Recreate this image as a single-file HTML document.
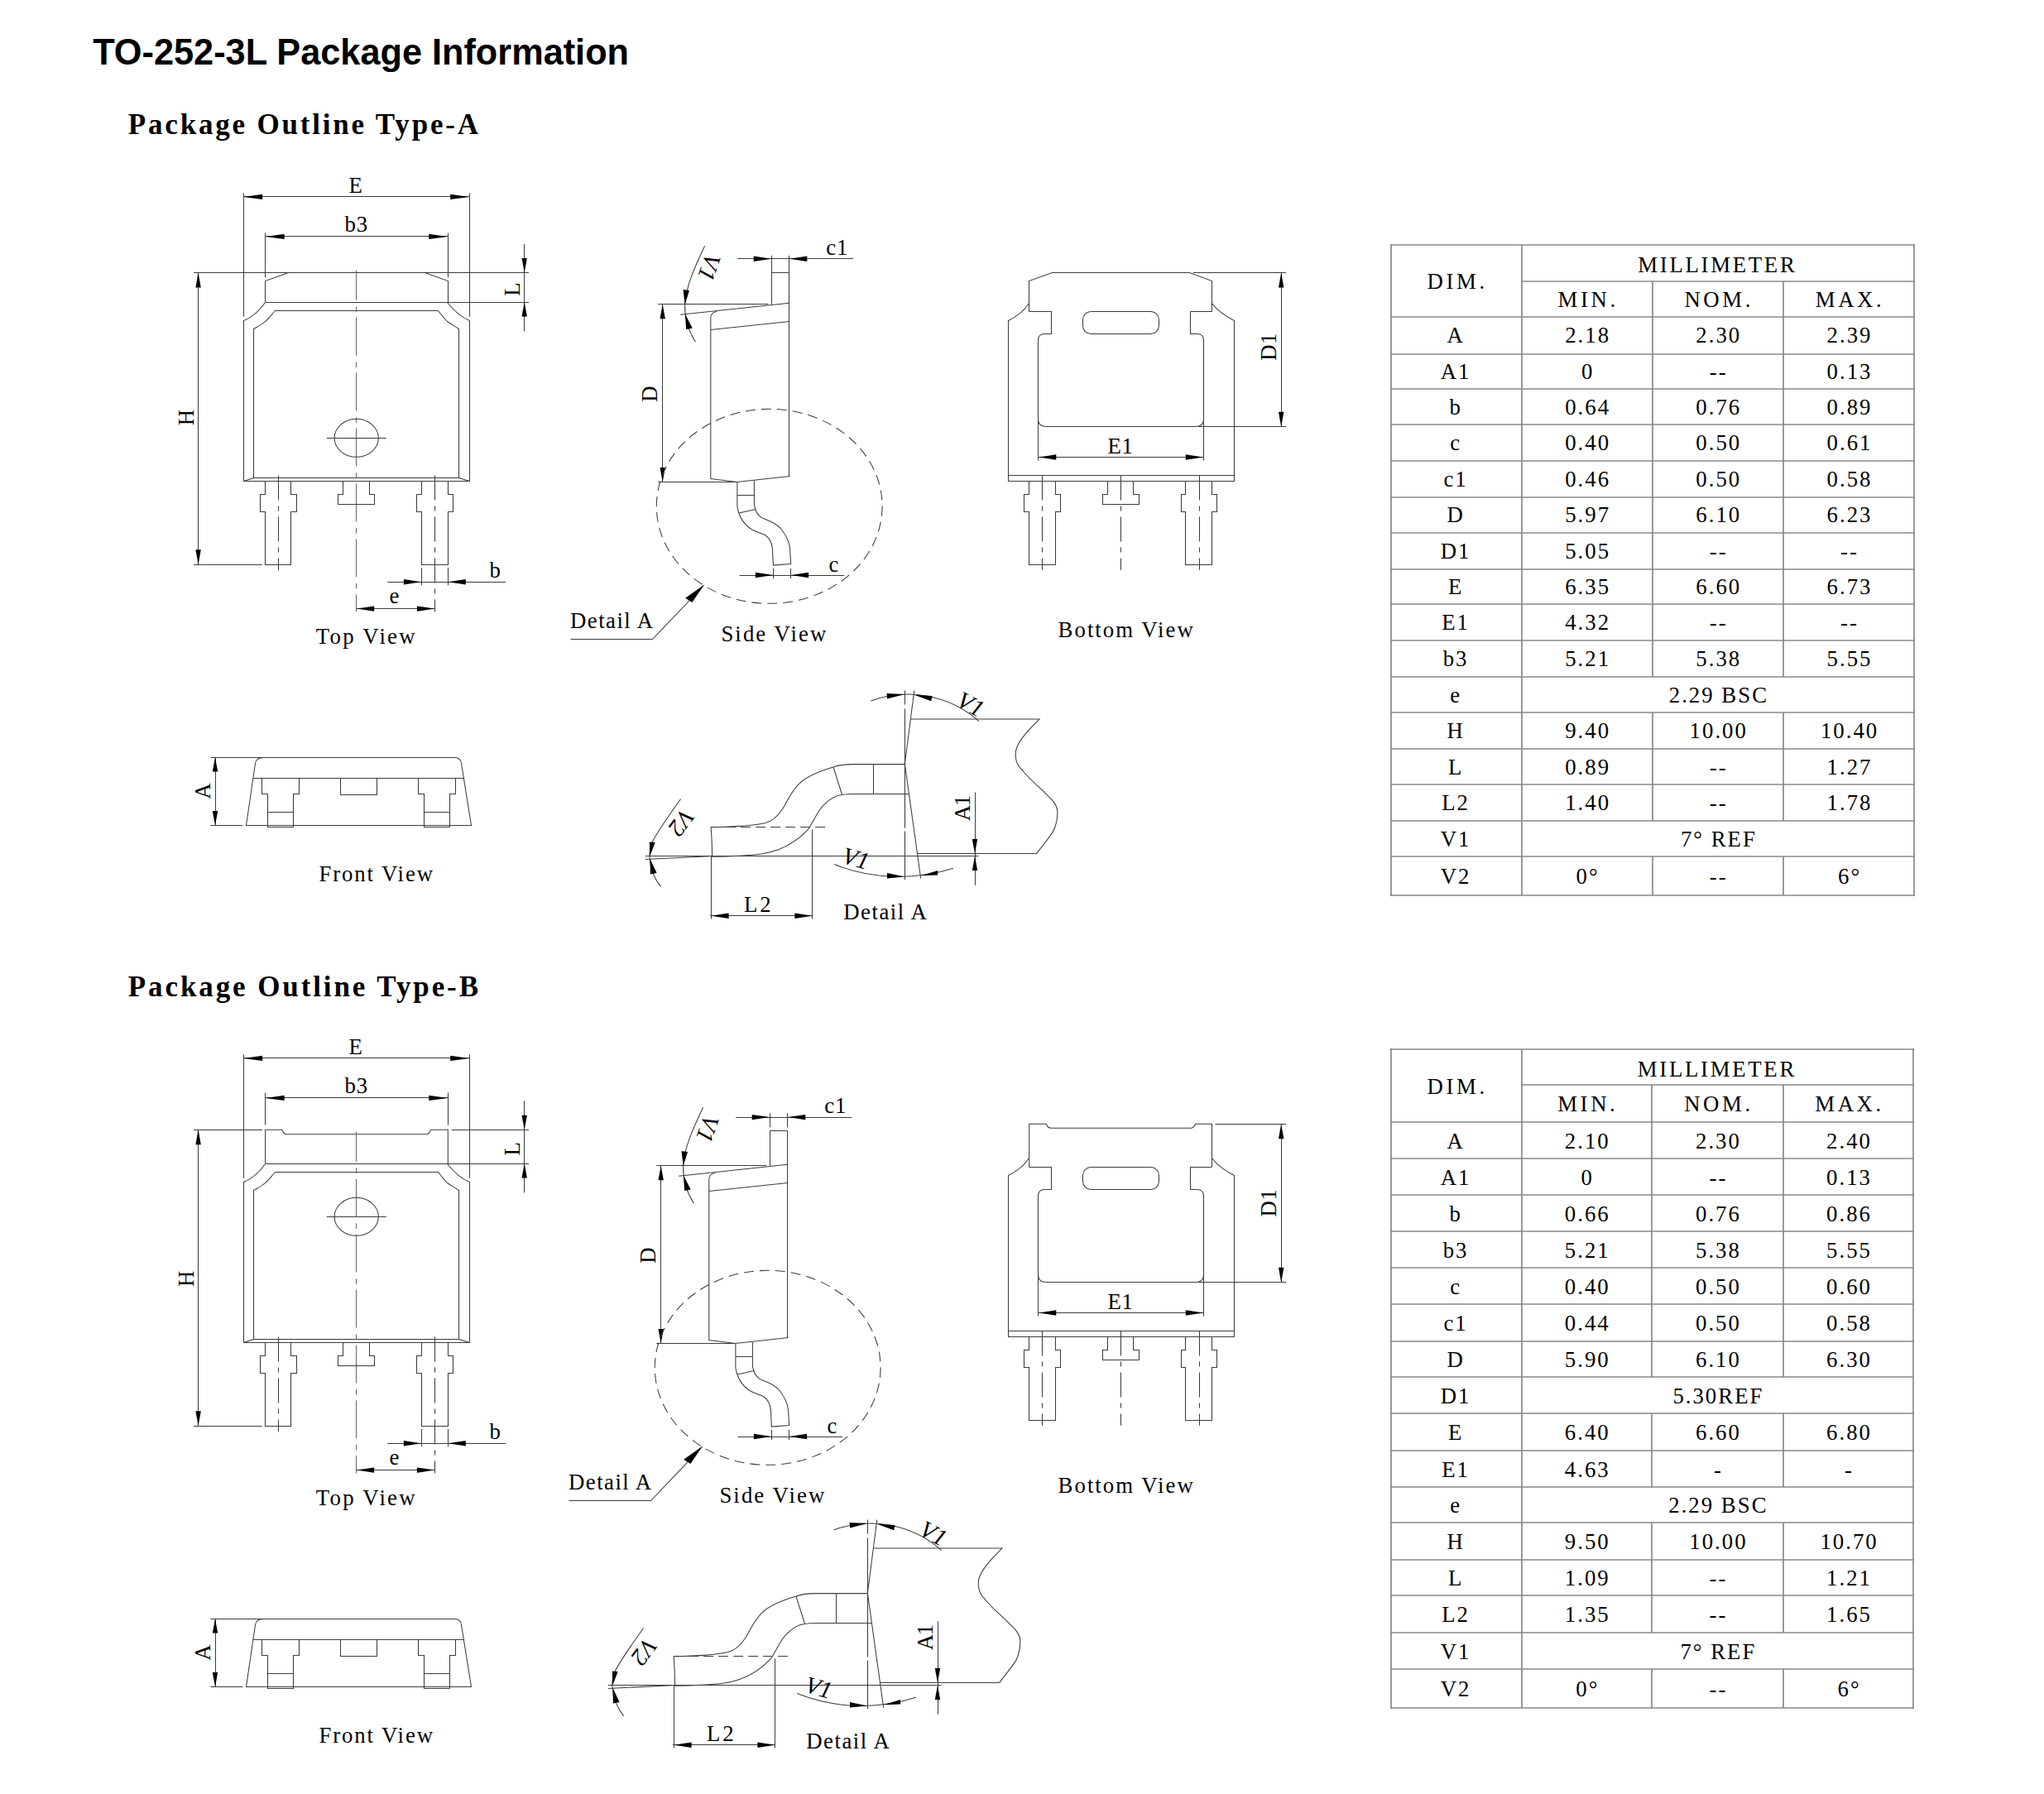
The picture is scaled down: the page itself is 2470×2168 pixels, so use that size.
<!DOCTYPE html>
<html><head><meta charset="utf-8"><title>TO-252-3L Package Information</title>
<style>
html,body{margin:0;padding:0;background:#fff;}
body{width:2470px;height:2168px;overflow:hidden;position:relative;}
svg{position:absolute;left:0;top:0;}
.l{fill:none;stroke:#3c3c3c;stroke-width:1.05;}
.c{fill:none;stroke:#6a6a6a;stroke-width:1.05;stroke-dasharray:46 7.7 6.6 6.6;}
.c2{fill:none;stroke:#3c3c3c;stroke-width:1.05;stroke-dasharray:30 7 6 7;}
.c3{fill:none;stroke:#3c3c3c;stroke-width:1.05;stroke-dasharray:17 5 144 4 400;}
.d{fill:none;stroke:#3c3c3c;stroke-width:1.05;stroke-dasharray:12 7;}
.d2{fill:none;stroke:#3c3c3c;stroke-width:1.05;stroke-dasharray:12 6;}
.a{fill:#000;stroke:none;}
.tb{stroke:#888;stroke-width:1.7;fill:none;}
.t{font-family:"Liberation Serif",serif;font-size:26.8px;fill:#000;}
.th{letter-spacing:3.6px;}
.th2{letter-spacing:2.7px;}
.tt{letter-spacing:2px;}
.it{font-style:italic;font-size:29px;}
.h1{font-family:"Liberation Sans",sans-serif;font-weight:bold;font-size:43.3px;fill:#000;}
.h2{font-family:"Liberation Serif",serif;font-weight:bold;font-size:35px;fill:#000;}
</style></head><body>
<svg width="2470" height="2168" viewBox="0 0 2470 2168">
<text class="h2" x="154.8" y="1203.8" textLength="423.2" lengthAdjust="spacing">Package Outline Type-B</text>
<text class="h2" x="154.8" y="162" textLength="423.2" lengthAdjust="spacing">Package Outline Type-A</text>
<text class="h1" x="0" y="0" textLength="647.82" lengthAdjust="spacingAndGlyphs" transform="translate(112.2 78) scale(1 1.045)">TO-252-3L Package Information</text>
<line class="l" x1="294.2" y1="237.5" x2="567.2" y2="237.5"/>
<path class="a" d="M294.2,237.9L317.2,234.7L317.2,241.1Z"/>
<path class="a" d="M567.2,237.9L544.2,241.1L544.2,234.7Z"/>
<line class="l" x1="294.5" y1="233.3" x2="294.5" y2="382.7"/>
<line class="l" x1="567.5" y1="233.3" x2="567.5" y2="382.7"/>
<text class="t" x="421.4" y="233">E</text>
<line class="l" x1="320.6" y1="285.5" x2="541.3" y2="285.5"/>
<path class="a" d="M320.6,285.9L343.6,282.7L343.6,289.1Z"/>
<path class="a" d="M541.3,285.9L518.3,289.1L518.3,282.7Z"/>
<text class="t" x="416.4" y="280.4" textLength="27.85" lengthAdjust="spacing">b3</text>
<line class="l" x1="320.5" y1="281.5" x2="320.5" y2="335.4"/>
<line class="l" x1="541.5" y1="281.5" x2="541.5" y2="335.4"/>
<line class="l" x1="234" y1="329.5" x2="639" y2="329.5"/>
<polyline class="l" points="320.5,365.5 320.5,339.5 348.5,329.5 513.5,329.5 541.5,339.5 541.5,365.5"/>
<line class="l" x1="633.5" y1="294.7" x2="633.5" y2="400.4"/>
<path class="a" d="M633.7,329.5L630.5,312L636.9,312Z"/>
<path class="a" d="M633.7,365.1L636.9,382.6L630.5,382.6Z"/>
<text class="t" x="0" y="0" transform="translate(628.2 357.8) rotate(-90)">L</text>
<line class="l" x1="320.6" y1="365.5" x2="639" y2="365.5"/>
<path class="l" d="M320.5,365.5C313.5,375.5 304.5,383.5 294.5,387.5V581.5H567.5V387.5C557.5,383.5 548.5,375.5 540.5,365.5"/>
<path class="l" d="M294.5,581.5L306.5,577.5V397.5C313.5,393.5 317.5,391.5 320.5,388.5C325.5,384.5 328.5,379.5 332.5,375.5H529.5C532.5,379.5 536.5,384.5 540.5,388.5C544.5,391.5 548.5,393.5 554.5,397.5V577.5L567.5,581.5"/>
<line class="l" x1="306.6" y1="577.5" x2="554.8" y2="577.5"/>
<line class="c" style="stroke-dashoffset:9.8" x1="430.5" y1="326.6" x2="430.5" y2="739.5"/>
<ellipse class="l" cx="430.7" cy="529.3" rx="26.6" ry="23"/>
<line class="l" x1="394.8" y1="529.5" x2="466.8" y2="529.5"/>
<path class="l" d="M320.5,581.5V597.5H314.5V618.5H320.5V682.5H351.5V618.5H358.5V597.5H351.5V581.5"/>
<path class="l" d="M509.5,581.5V597.5H503.5V618.5H509.5V682.5H541.5V618.5H547.5V597.5H541.5V581.5"/>
<path class="l" d="M414.5,581.5V597.5H408.5V609.5H452.5V597.5H446.5V581.5"/>
<line class="c2" x1="336.5" y1="574.4" x2="336.5" y2="689.5"/>
<line class="c2" x1="525.5" y1="574.4" x2="525.5" y2="739.5"/>
<line class="l" x1="239.5" y1="329.5" x2="239.5" y2="682.3"/>
<path class="a" d="M239.6,329.5L242.8,347.5L236.4,347.5Z"/>
<path class="a" d="M239.6,682.3L236.4,664.3L242.8,664.3Z"/>
<line class="l" x1="234" y1="682.5" x2="316.7" y2="682.5"/>
<text class="t" x="0" y="0" transform="translate(234.1 514.2) rotate(-90)">H</text>
<line class="l" x1="468.2" y1="703.5" x2="611.3" y2="703.5"/>
<path class="a" d="M509.3,703.2L487.8,706.4L487.8,700Z"/>
<path class="a" d="M541.3,703.2L562.8,700L562.8,706.4Z"/>
<line class="l" x1="509.5" y1="686" x2="509.5" y2="707.2"/>
<line class="l" x1="541.5" y1="686" x2="541.5" y2="707.2"/>
<text class="t" x="591.4" y="697.7">b</text>
<line class="l" x1="430.7" y1="735.5" x2="525.4" y2="735.5"/>
<path class="a" d="M430.7,735.6L452.2,732.4L452.2,738.8Z"/>
<path class="a" d="M525.4,735.6L503.9,738.8L503.9,732.4Z"/>
<text class="t" x="470.4" y="729.2">e</text>
<text class="t" x="381.8" y="778" textLength="119.82" lengthAdjust="spacing">Top View</text>
<line class="l" x1="891.1" y1="312.5" x2="1031.1" y2="312.5"/>
<path class="a" d="M932.2,312.7L910.7,315.9L910.7,309.5Z"/>
<path class="a" d="M953.8,312.7L975.3,309.5L975.3,315.9Z"/>
<text class="t" x="998.2" y="308.2" textLength="26.32" lengthAdjust="spacing">c1</text>
<line class="l" x1="932.5" y1="308.7" x2="932.5" y2="367.8"/>
<line class="l" x1="953.5" y1="308.7" x2="953.5" y2="575.8"/>
<line class="l" x1="932.2" y1="329.5" x2="953.8" y2="329.5"/>
<line class="l" x1="795.2" y1="367.5" x2="928.3" y2="367.5"/>
<line class="l" x1="822.2" y1="380.2" x2="953.8" y2="366.3"/>
<path class="l" d="M858.8,578.5V384.5Q858.8,377.5 866,376.5"/>
<line class="l" x1="858.8" y1="398.6" x2="953.8" y2="388.4"/>
<polyline class="l" points="858.5,578.5 890.5,582.5 954.5,575.5"/>
<line class="l" x1="795.3" y1="582.5" x2="890.9" y2="582.5"/>
<line class="l" x1="800.5" y1="367.8" x2="800.5" y2="582.6"/>
<path class="a" d="M800.7,367.8L803.9,385.3L797.5,385.3Z"/>
<path class="a" d="M800.7,582.6L797.5,565.1L803.9,565.1Z"/>
<text class="t" x="0" y="0" transform="translate(794.3 485.8) rotate(-90)">D</text>
<path class="l" d="M851.6,297.2C840,322 829,345 827.7,367.9C827,385 832,400 840.4,413.2"/>
<path class="a" d="M827.7,367.9L825.5,350.1L833,350.9Z"/>
<path class="a" d="M828,379.5L829.1,398L836.7,396.5Z"/>
<text class="t it" x="0" y="0" text-anchor="middle" dominant-baseline="central" transform="translate(857.4 323) rotate(109)">V1</text>
<path class="l" d="M890.9,582.6V611.8C891.5,616 892,618 892.9,620C894.5,625 899,633 906.3,638.5C913,643 920,644 924.8,646.7C929,649.5 932.5,655 933.4,663.1L934.4,683.1L955.6,681.6L954.6,663.1C953.8,656 951,648 943.3,638.5C938,633 933,631 928.9,629.2C924,627 921,626 919.6,625.1C916,622 913.5,619 913.1,615.9C912,612 911.4,611 911.4,609.7V581"/>
<line class="l" x1="890.9" y1="598.5" x2="911.4" y2="598.5"/>
<line class="l" x1="892.9" y1="620" x2="913.1" y2="615.5"/>
<line class="l" x1="893.5" y1="695.5" x2="1020.3" y2="695.5"/>
<path class="a" d="M934.4,695L912.9,698.2L912.9,691.8Z"/>
<path class="a" d="M955.6,695L977.1,691.8L977.1,698.2Z"/>
<line class="l" x1="934.5" y1="686.8" x2="934.5" y2="699.1"/>
<line class="l" x1="955.5" y1="686.8" x2="955.5" y2="699.1"/>
<text class="t" x="1001.4" y="690.9">c</text>
<ellipse class="d" cx="929.7" cy="611.8" rx="136.4" ry="117.5"/>
<polyline class="l" points="689.5,772.5 788.5,772.5 850.5,707.5"/>
<path class="a" d="M850.8,706.8L828.2,722.7L836.4,727.9Z"/>
<text class="t" x="689" y="758.7" textLength="100.21" lengthAdjust="spacing">Detail A</text>
<text class="t" x="871.4" y="774.5" textLength="126.86" lengthAdjust="spacing">Side View</text>
<polyline class="l" points="1243.5,376.5 1243.5,339.5 1271.5,329.5 1437.5,329.5 1464.5,339.5 1464.5,376.5"/>
<line class="l" x1="1441.7" y1="329.5" x2="1554.2" y2="329.5"/>
<line class="l" x1="1548.5" y1="329.4" x2="1548.5" y2="515.7"/>
<path class="a" d="M1548.2,329.4L1551.4,347.4L1545,347.4Z"/>
<path class="a" d="M1548.2,515.7L1545,497.7L1551.4,497.7Z"/>
<text class="t" x="0" y="0" textLength="33.13" lengthAdjust="spacing" transform="translate(1542.1 435.8) rotate(-90)">D1</text>
<path class="l" d="M1243.5,366.5C1238.5,374.5 1232.5,380.5 1218.5,387.5V581.5H1491.5V387.5C1477.5,380.5 1470.5,374.5 1464.5,366.5"/>
<path class="l" d="M1243.5,376.5H1270.5V403.5H1262.5Q1254.5,403.5 1254.5,411.5V506.5Q1254.5,515.5 1264.5,515.5H1444.5Q1454.5,515.5 1454.5,506.5V411.5Q1454.5,403.5 1446.5,403.5H1438.5V376.5H1464.5"/>
<rect class="l" x="1308.5" y="376.5" width="92" height="27" rx="10"/>
<line class="l" x1="1218" y1="574.5" x2="1491" y2="574.5"/>
<line class="l" x1="1448.2" y1="515.5" x2="1554.2" y2="515.5"/>
<line class="l" x1="1254.5" y1="486" x2="1254.5" y2="556.6"/>
<line class="l" x1="1454.5" y1="486" x2="1454.5" y2="556.6"/>
<line class="l" x1="1254.8" y1="552.5" x2="1454.3" y2="552.5"/>
<path class="a" d="M1254.8,552.5L1276.3,549.3L1276.3,555.7Z"/>
<path class="a" d="M1454.3,552.5L1432.8,555.7L1432.8,549.3Z"/>
<text class="t" x="1338.6" y="548.2" textLength="30.38" lengthAdjust="spacing">E1</text>
<path class="l" d="M1243.5,581.5V597.5H1237.5V618.5H1243.5V682.5H1275.5V618.5H1281.5V597.5H1275.5V581.5"/>
<path class="l" d="M1432.5,581.5V597.5H1427.5V618.5H1432.5V682.5H1464.5V618.5H1470.5V597.5H1464.5V581.5"/>
<path class="l" d="M1338.5,581.5V597.5H1332.5V609.5H1376.5V597.5H1369.5V581.5"/>
<line class="c2" x1="1259.5" y1="574.4" x2="1259.5" y2="688.7"/>
<line class="c2" x1="1354.5" y1="574.4" x2="1354.5" y2="688.7"/>
<line class="c2" x1="1449.5" y1="574.4" x2="1449.5" y2="688.7"/>
<text class="t" x="1278.6" y="770.2" textLength="163.21" lengthAdjust="spacing">Bottom View</text>
<line class="l" x1="254.4" y1="915.5" x2="321.3" y2="915.5"/>
<path class="l" d="M297.5,997.5L308.5,922.5Q309.5,915.5 318.5,915.5H549.5Q556.5,915.5 557.5,922.5L569.5,997.5Z"/>
<line class="l" x1="305.9" y1="940.5" x2="561.1" y2="940.5"/>
<line class="l" x1="260.5" y1="915.1" x2="260.5" y2="997.5"/>
<path class="a" d="M260,915.1L263.2,932.6L256.8,932.6Z"/>
<path class="a" d="M260,997.5L256.8,980L263.2,980Z"/>
<line class="l" x1="254.4" y1="997.5" x2="293.4" y2="997.5"/>
<text class="t" x="0" y="0" transform="translate(253.5 965.8) rotate(-90)">A</text>
<path class="l" d="M316.5,940.5V959.5H323.5V999.5H354.5V959.5H361.5V940.5"/>
<line class="l" x1="323.2" y1="981.5" x2="354.2" y2="981.5"/>
<path class="l" d="M411.5,940.5V960.5H455.5V940.5"/>
<path class="l" d="M505.5,940.5V959.5H512.5V999.5H543.5V959.5H550.5V940.5"/>
<line class="l" x1="512.4" y1="981.5" x2="543.5" y2="981.5"/>
<text class="t" x="385.4" y="1064.8" textLength="137.61" lengthAdjust="spacing">Front View</text>
<line class="c3" x1="1093.5" y1="834.5" x2="1093.5" y2="1063.1"/>
<line class="l" x1="1104.8" y1="834.5" x2="1093.4" y2="923.2"/>
<line class="l" x1="1093.4" y1="923.2" x2="1112.7" y2="1061.7"/>
<path class="l" d="M1100.8,868.9H1256.2C1245,880 1230,895 1227.6,907.2C1226,918 1230,926 1235.6,931C1245,943 1255,950 1262,957.4C1270,965 1277.8,972 1277.8,981.2C1278,992 1276,998 1272.6,1004.9C1266,1015 1258,1024 1252.7,1031.4H1108.7"/>
<path class="l" d="M1093.4,923.6H1032.1C1022,923.6 1012,925 1007,927C990,932 975,938 966,946.8C955,957 950,972 945,978.5C940,986 934,992 925,994.4C910,998 880,999.3 859.1,999.7C860,1010 860.5,1025 860.6,1035.3C880,1035 900,1034.5 920,1032C940,1029 960,1020 976.6,1002.3C983,993 988,980 995.1,973.2C1002,966 1010,961 1017.6,960.6C1022,959.6 1027,959.5 1032.1,959.5H1098.2"/>
<line class="l" x1="1007" y1="927" x2="1017.6" y2="960.6"/>
<line class="l" x1="1055.5" y1="923.6" x2="1055.5" y2="959.5"/>
<line class="d2" x1="859.1" y1="999.5" x2="1003.1" y2="999.5"/>
<line class="l" x1="779.8" y1="1034.5" x2="1182.7" y2="1034.5"/>
<line class="l" x1="780.1" y1="1038.4" x2="857" y2="1034.8"/>
<line class="l" x1="857.8" y1="1106.5" x2="981.9" y2="1106.5"/>
<path class="a" d="M859.1,1106.7L880.6,1103.5L880.6,1109.9Z"/>
<path class="a" d="M981.9,1106.7L960.4,1109.9L960.4,1103.5Z"/>
<line class="l" x1="859.5" y1="1035" x2="859.5" y2="1110.6"/>
<line class="l" x1="981.5" y1="1002.3" x2="981.5" y2="1110.6"/>
<text class="t" x="899" y="1102.2" textLength="32.59" lengthAdjust="spacing">L2</text>
<text class="t" x="1019.2" y="1111.1" textLength="100.63" lengthAdjust="spacing">Detail A</text>
<line class="l" x1="1178.5" y1="957.4" x2="1178.5" y2="1069.7"/>
<path class="a" d="M1178,1031.4L1174.8,1013.9L1181.2,1013.9Z"/>
<path class="a" d="M1178,1034.5L1181.2,1052L1174.8,1052Z"/>
<text class="t" x="0" y="0" textLength="31.31" lengthAdjust="spacing" transform="translate(1172.2 992.2) rotate(-90)">A1</text>
<path class="l" d="M1052.5,846.9A129.73,129.73 0 0 1 1182.9,871.6"/>
<path class="a" d="M1093.2,839.1L1072.13,844.42L1071.49,838.06Z"/>
<path class="a" d="M1104.8,839.8L1126.51,840.88L1125.25,847.15Z"/>
<text class="t it" x="0" y="0" text-anchor="middle" dominant-baseline="central" transform="translate(1173 850.8) rotate(28)">V1</text>
<path class="l" d="M1008.2,1044.6A213.88,213.88 0 0 0 1151.9,1049.3"/>
<path class="a" d="M1093.2,1059.4L1072,1055.1L1072,1061.4Z"/>
<path class="a" d="M1112.7,1058.3L1133.1,1052L1133.1,1057.5Z"/>
<text class="t it" x="0" y="0" text-anchor="middle" dominant-baseline="central" transform="translate(1034.4 1037.1) rotate(15)">V1</text>
<path class="l" d="M822.6,965.5C810,983 796,1003 789,1016C785.5,1024 784.6,1030 785,1035.8C785.8,1050 790,1061 798.6,1071.7"/>
<path class="a" d="M785.2,1035.1L784.9,1017.4L791.7,1018.1Z"/>
<path class="a" d="M785.6,1038L785.9,1056.5L793.6,1055Z"/>
<text class="t it" x="0" y="0" text-anchor="middle" dominant-baseline="central" transform="translate(823.6 994.2) rotate(127)">V2</text>
<line class="tb" x1="1680" y1="296" x2="2314" y2="296"/>
<line class="tb" x1="1838" y1="340" x2="2314" y2="340"/>
<line class="tb" x1="1680" y1="383" x2="2314" y2="383"/>
<line class="tb" x1="1680" y1="428" x2="2314" y2="428"/>
<line class="tb" x1="1680" y1="470" x2="2314" y2="470"/>
<line class="tb" x1="1680" y1="513" x2="2314" y2="513"/>
<line class="tb" x1="1680" y1="557" x2="2314" y2="557"/>
<line class="tb" x1="1680" y1="601" x2="2314" y2="601"/>
<line class="tb" x1="1680" y1="644" x2="2314" y2="644"/>
<line class="tb" x1="1680" y1="688" x2="2314" y2="688"/>
<line class="tb" x1="1680" y1="730" x2="2314" y2="730"/>
<line class="tb" x1="1680" y1="774" x2="2314" y2="774"/>
<line class="tb" x1="1680" y1="818" x2="2314" y2="818"/>
<line class="tb" x1="1680" y1="861" x2="2314" y2="861"/>
<line class="tb" x1="1680" y1="905" x2="2314" y2="905"/>
<line class="tb" x1="1680" y1="948" x2="2314" y2="948"/>
<line class="tb" x1="1680" y1="992" x2="2314" y2="992"/>
<line class="tb" x1="1680" y1="1035" x2="2314" y2="1035"/>
<line class="tb" x1="1680" y1="1082" x2="2314" y2="1082"/>
<line class="tb" x1="1681" y1="295" x2="1681" y2="1083"/>
<line class="tb" x1="2313" y1="295" x2="2313" y2="1083"/>
<line class="tb" x1="1839" y1="296" x2="1839" y2="1082"/>
<text class="t th" x="1761.1" y="349.4" text-anchor="middle">DIM.</text>
<text class="t th2" x="2075.4" y="328.8" text-anchor="middle">MILLIMETER</text>
<text class="t th" x="1919.1" y="371.2" text-anchor="middle">MIN.</text>
<text class="t th" x="2077.25" y="371.2" text-anchor="middle">NOM.</text>
<text class="t th" x="2235.55" y="371.2" text-anchor="middle">MAX.</text>
<line class="tb" x1="1997" y1="340" x2="1997" y2="383"/>
<line class="tb" x1="2155" y1="340" x2="2155" y2="383"/>
<text class="t tt" x="1759.1" y="414.35" text-anchor="middle">A</text>
<line class="tb" x1="1997" y1="383" x2="1997" y2="428"/>
<line class="tb" x1="2155" y1="383" x2="2155" y2="428"/>
<text class="t tt" x="1918.6" y="414.35" text-anchor="middle">2.18</text>
<text class="t tt" x="2076.75" y="414.35" text-anchor="middle">2.30</text>
<text class="t tt" x="2235.05" y="414.35" text-anchor="middle">2.39</text>
<text class="t tt" x="1759.1" y="457.8" text-anchor="middle">A1</text>
<line class="tb" x1="1997" y1="428" x2="1997" y2="470"/>
<line class="tb" x1="2155" y1="428" x2="2155" y2="470"/>
<text class="t tt" x="1918.6" y="457.8" text-anchor="middle">0</text>
<text class="t tt" x="2076.75" y="457.8" text-anchor="middle">--</text>
<text class="t tt" x="2235.05" y="457.8" text-anchor="middle">0.13</text>
<text class="t tt" x="1759.1" y="500.75" text-anchor="middle">b</text>
<line class="tb" x1="1997" y1="470" x2="1997" y2="513"/>
<line class="tb" x1="2155" y1="470" x2="2155" y2="513"/>
<text class="t tt" x="1918.6" y="500.75" text-anchor="middle">0.64</text>
<text class="t tt" x="2076.75" y="500.75" text-anchor="middle">0.76</text>
<text class="t tt" x="2235.05" y="500.75" text-anchor="middle">0.89</text>
<text class="t tt" x="1759.1" y="544.05" text-anchor="middle">c</text>
<line class="tb" x1="1997" y1="513" x2="1997" y2="557"/>
<line class="tb" x1="2155" y1="513" x2="2155" y2="557"/>
<text class="t tt" x="1918.6" y="544.05" text-anchor="middle">0.40</text>
<text class="t tt" x="2076.75" y="544.05" text-anchor="middle">0.50</text>
<text class="t tt" x="2235.05" y="544.05" text-anchor="middle">0.61</text>
<text class="t tt" x="1759.1" y="587.65" text-anchor="middle">c1</text>
<line class="tb" x1="1997" y1="557" x2="1997" y2="601"/>
<line class="tb" x1="2155" y1="557" x2="2155" y2="601"/>
<text class="t tt" x="1918.6" y="587.65" text-anchor="middle">0.46</text>
<text class="t tt" x="2076.75" y="587.65" text-anchor="middle">0.50</text>
<text class="t tt" x="2235.05" y="587.65" text-anchor="middle">0.58</text>
<text class="t tt" x="1759.1" y="631.4" text-anchor="middle">D</text>
<line class="tb" x1="1997" y1="601" x2="1997" y2="644"/>
<line class="tb" x1="2155" y1="601" x2="2155" y2="644"/>
<text class="t tt" x="1918.6" y="631.4" text-anchor="middle">5.97</text>
<text class="t tt" x="2076.75" y="631.4" text-anchor="middle">6.10</text>
<text class="t tt" x="2235.05" y="631.4" text-anchor="middle">6.23</text>
<text class="t tt" x="1759.1" y="674.85" text-anchor="middle">D1</text>
<line class="tb" x1="1997" y1="644" x2="1997" y2="688"/>
<line class="tb" x1="2155" y1="644" x2="2155" y2="688"/>
<text class="t tt" x="1918.6" y="674.85" text-anchor="middle">5.05</text>
<text class="t tt" x="2076.75" y="674.85" text-anchor="middle">--</text>
<text class="t tt" x="2235.05" y="674.85" text-anchor="middle">--</text>
<text class="t tt" x="1759.1" y="717.8" text-anchor="middle">E</text>
<line class="tb" x1="1997" y1="688" x2="1997" y2="730"/>
<line class="tb" x1="2155" y1="688" x2="2155" y2="730"/>
<text class="t tt" x="1918.6" y="717.8" text-anchor="middle">6.35</text>
<text class="t tt" x="2076.75" y="717.8" text-anchor="middle">6.60</text>
<text class="t tt" x="2235.05" y="717.8" text-anchor="middle">6.73</text>
<text class="t tt" x="1759.1" y="761.25" text-anchor="middle">E1</text>
<line class="tb" x1="1997" y1="730" x2="1997" y2="774"/>
<line class="tb" x1="2155" y1="730" x2="2155" y2="774"/>
<text class="t tt" x="1918.6" y="761.25" text-anchor="middle">4.32</text>
<text class="t tt" x="2076.75" y="761.25" text-anchor="middle">--</text>
<text class="t tt" x="2235.05" y="761.25" text-anchor="middle">--</text>
<text class="t tt" x="1759.1" y="805.05" text-anchor="middle">b3</text>
<line class="tb" x1="1997" y1="774" x2="1997" y2="818"/>
<line class="tb" x1="2155" y1="774" x2="2155" y2="818"/>
<text class="t tt" x="1918.6" y="805.05" text-anchor="middle">5.21</text>
<text class="t tt" x="2076.75" y="805.05" text-anchor="middle">5.38</text>
<text class="t tt" x="2235.05" y="805.05" text-anchor="middle">5.55</text>
<text class="t tt" x="1759.1" y="848.5" text-anchor="middle">e</text>
<text class="t tt" x="2076.9" y="848.5" text-anchor="middle">2.29 BSC</text>
<text class="t tt" x="1759.1" y="892.1" text-anchor="middle">H</text>
<line class="tb" x1="1997" y1="861" x2="1997" y2="905"/>
<line class="tb" x1="2155" y1="861" x2="2155" y2="905"/>
<text class="t tt" x="1918.6" y="892.1" text-anchor="middle">9.40</text>
<text class="t tt" x="2076.75" y="892.1" text-anchor="middle">10.00</text>
<text class="t tt" x="2235.05" y="892.1" text-anchor="middle">10.40</text>
<text class="t tt" x="1759.1" y="935.7" text-anchor="middle">L</text>
<line class="tb" x1="1997" y1="905" x2="1997" y2="948"/>
<line class="tb" x1="2155" y1="905" x2="2155" y2="948"/>
<text class="t tt" x="1918.6" y="935.7" text-anchor="middle">0.89</text>
<text class="t tt" x="2076.75" y="935.7" text-anchor="middle">--</text>
<text class="t tt" x="2235.05" y="935.7" text-anchor="middle">1.27</text>
<text class="t tt" x="1759.1" y="979.1" text-anchor="middle">L2</text>
<line class="tb" x1="1997" y1="948" x2="1997" y2="992"/>
<line class="tb" x1="2155" y1="948" x2="2155" y2="992"/>
<text class="t tt" x="1918.6" y="979.1" text-anchor="middle">1.40</text>
<text class="t tt" x="2076.75" y="979.1" text-anchor="middle">--</text>
<text class="t tt" x="2235.05" y="979.1" text-anchor="middle">1.78</text>
<text class="t tt" x="1759.1" y="1022.5" text-anchor="middle">V1</text>
<text class="t tt" x="2076.9" y="1022.5" text-anchor="middle">7° REF</text>
<text class="t tt" x="1759.1" y="1067.6" text-anchor="middle">V2</text>
<line class="tb" x1="1997" y1="1035" x2="1997" y2="1082"/>
<line class="tb" x1="2155" y1="1035" x2="2155" y2="1082"/>
<text class="t tt" x="1918.6" y="1067.6" text-anchor="middle">0°</text>
<text class="t tt" x="2076.75" y="1067.6" text-anchor="middle">--</text>
<text class="t tt" x="2235.05" y="1067.6" text-anchor="middle">6°</text>
<g transform="translate(0 1041)">
<line class="l" x1="294.2" y1="237.5" x2="567.2" y2="237.5"/>
<path class="a" d="M294.2,237.9L317.2,234.7L317.2,241.1Z"/>
<path class="a" d="M567.2,237.9L544.2,241.1L544.2,234.7Z"/>
<line class="l" x1="294.5" y1="233.3" x2="294.5" y2="382.7"/>
<line class="l" x1="567.5" y1="233.3" x2="567.5" y2="382.7"/>
<text class="t" x="421.4" y="233">E</text>
<line class="l" x1="320.6" y1="285.5" x2="541.3" y2="285.5"/>
<path class="a" d="M320.6,285.9L343.6,282.7L343.6,289.1Z"/>
<path class="a" d="M541.3,285.9L518.3,289.1L518.3,282.7Z"/>
<text class="t" x="416.4" y="280.4" textLength="27.85" lengthAdjust="spacing">b3</text>
<line class="l" x1="320.5" y1="279.5" x2="320.5" y2="318.5"/>
<line class="l" x1="541.5" y1="279.5" x2="541.5" y2="318.5"/>
<line class="l" x1="234" y1="324.5" x2="317" y2="324.5"/>
<line class="l" x1="545.7" y1="324.5" x2="639" y2="324.5"/>
<path class="l" d="M320.6,365.1V324.3H340.9Q342.5,329.8 347,329.8H514.4Q518.9,329.8 520.5,324.3H541.3V365.1"/>
<line class="l" x1="633.5" y1="289.3" x2="633.5" y2="400.4"/>
<path class="a" d="M633.7,324.3L630.5,306.8L636.9,306.8Z"/>
<path class="a" d="M633.7,365.1L636.9,382.6L630.5,382.6Z"/>
<text class="t" x="0" y="0" transform="translate(628.2 355.6) rotate(-90)">L</text>
<line class="l" x1="320.6" y1="365.5" x2="639" y2="365.5"/>
<path class="l" d="M320.5,365.5C313.5,375.5 304.5,383.5 294.5,387.5V581.5H567.5V387.5C557.5,383.5 548.5,375.5 540.5,365.5"/>
<path class="l" d="M294.5,581.5L306.5,577.5V397.5C313.5,393.5 317.5,391.5 320.5,388.5C325.5,384.5 328.5,379.5 332.5,375.5H529.5C532.5,379.5 536.5,384.5 540.5,388.5C544.5,391.5 548.5,393.5 554.5,397.5V577.5L567.5,581.5"/>
<line class="l" x1="306.6" y1="577.5" x2="554.8" y2="577.5"/>
<line class="c" style="stroke-dashoffset:9.8" x1="430.5" y1="326.6" x2="430.5" y2="739.5"/>
<ellipse class="l" cx="430.7" cy="429.3" rx="26.6" ry="23"/>
<line class="l" x1="394.8" y1="429.5" x2="466.8" y2="429.5"/>
<path class="l" d="M320.5,581.5V597.5H314.5V618.5H320.5V682.5H351.5V618.5H358.5V597.5H351.5V581.5"/>
<path class="l" d="M509.5,581.5V597.5H503.5V618.5H509.5V682.5H541.5V618.5H547.5V597.5H541.5V581.5"/>
<path class="l" d="M414.5,581.5V597.5H408.5V609.5H452.5V597.5H446.5V581.5"/>
<line class="c2" x1="336.5" y1="574.4" x2="336.5" y2="689.5"/>
<line class="c2" x1="525.5" y1="574.4" x2="525.5" y2="739.5"/>
<line class="l" x1="239.5" y1="324.3" x2="239.5" y2="682.3"/>
<path class="a" d="M239.6,324.3L242.8,342.3L236.4,342.3Z"/>
<path class="a" d="M239.6,682.3L236.4,664.3L242.8,664.3Z"/>
<line class="l" x1="234" y1="682.5" x2="316.7" y2="682.5"/>
<text class="t" x="0" y="0" transform="translate(234.1 514) rotate(-90)">H</text>
<line class="l" x1="468.2" y1="703.5" x2="611.3" y2="703.5"/>
<path class="a" d="M509.3,703.2L487.8,706.4L487.8,700Z"/>
<path class="a" d="M541.3,703.2L562.8,700L562.8,706.4Z"/>
<line class="l" x1="509.5" y1="686" x2="509.5" y2="707.2"/>
<line class="l" x1="541.5" y1="686" x2="541.5" y2="707.2"/>
<text class="t" x="591.4" y="697.7">b</text>
<line class="l" x1="430.7" y1="735.5" x2="525.4" y2="735.5"/>
<path class="a" d="M430.7,735.6L452.2,732.4L452.2,738.8Z"/>
<path class="a" d="M525.4,735.6L503.9,738.8L503.9,732.4Z"/>
<text class="t" x="470.4" y="729.2">e</text>
<text class="t" x="381.8" y="778" textLength="119.82" lengthAdjust="spacing">Top View</text>
</g>
<g transform="translate(-2 1041)">
<line class="l" x1="891.1" y1="309.5" x2="1031.1" y2="309.5"/>
<path class="a" d="M932.2,309.1L910.7,312.3L910.7,305.9Z"/>
<path class="a" d="M953.8,309.1L975.3,305.9L975.3,312.3Z"/>
<text class="t" x="998.2" y="304.2" textLength="26.32" lengthAdjust="spacing">c1</text>
<line class="l" x1="932.5" y1="304.2" x2="932.5" y2="321.4"/>
<line class="l" x1="953.5" y1="304.2" x2="953.5" y2="321.4"/>
<line class="l" x1="932.3" y1="325.5" x2="953.4" y2="325.5"/>
<line class="l" x1="932.5" y1="325.4" x2="932.5" y2="367.8"/>
<line class="l" x1="953.5" y1="325.4" x2="953.5" y2="575.8"/>
<line class="l" x1="795.2" y1="367.5" x2="928.3" y2="367.5"/>
<line class="l" x1="822.2" y1="380.2" x2="953.8" y2="366.3"/>
<path class="l" d="M858.8,578.5V384.5Q858.8,377.5 866,376.5"/>
<line class="l" x1="858.8" y1="398.6" x2="953.8" y2="388.4"/>
<polyline class="l" points="858.5,578.5 890.5,582.5 954.5,575.5"/>
<line class="l" x1="795.3" y1="582.5" x2="890.9" y2="582.5"/>
<line class="l" x1="800.5" y1="367.8" x2="800.5" y2="582.6"/>
<path class="a" d="M800.7,367.8L803.9,385.3L797.5,385.3Z"/>
<path class="a" d="M800.7,582.6L797.5,565.1L803.9,565.1Z"/>
<text class="t" x="0" y="0" transform="translate(794.3 485.8) rotate(-90)">D</text>
<path class="l" d="M851.6,297.2C840,322 829,345 827.7,367.9C827,385 832,400 840.4,413.2"/>
<path class="a" d="M827.7,367.9L825.5,350.1L833,350.9Z"/>
<path class="a" d="M828,379.5L829.1,398L836.7,396.5Z"/>
<text class="t it" x="0" y="0" text-anchor="middle" dominant-baseline="central" transform="translate(857.4 323) rotate(109)">V1</text>
<path class="l" d="M890.9,582.6V611.8C891.5,616 892,618 892.9,620C894.5,625 899,633 906.3,638.5C913,643 920,644 924.8,646.7C929,649.5 932.5,655 933.4,663.1L934.4,683.1L955.6,681.6L954.6,663.1C953.8,656 951,648 943.3,638.5C938,633 933,631 928.9,629.2C924,627 921,626 919.6,625.1C916,622 913.5,619 913.1,615.9C912,612 911.4,611 911.4,609.7V581"/>
<line class="l" x1="890.9" y1="598.5" x2="911.4" y2="598.5"/>
<line class="l" x1="892.9" y1="620" x2="913.1" y2="615.5"/>
<line class="l" x1="893.5" y1="695.5" x2="1020.3" y2="695.5"/>
<path class="a" d="M934.4,695L912.9,698.2L912.9,691.8Z"/>
<path class="a" d="M955.6,695L977.1,691.8L977.1,698.2Z"/>
<line class="l" x1="934.5" y1="686.8" x2="934.5" y2="699.1"/>
<line class="l" x1="955.5" y1="686.8" x2="955.5" y2="699.1"/>
<text class="t" x="1001.4" y="690.9">c</text>
<ellipse class="d" cx="929.7" cy="611.8" rx="136.4" ry="117.5"/>
<polyline class="l" points="689.5,772.5 788.5,772.5 850.5,707.5"/>
<path class="a" d="M850.8,706.8L828.2,722.7L836.4,727.9Z"/>
<text class="t" x="689" y="758.7" textLength="100.21" lengthAdjust="spacing">Detail A</text>
<text class="t" x="871.4" y="774.5" textLength="126.86" lengthAdjust="spacing">Side View</text>
</g>
<g transform="translate(0 1034)">
<path class="l" d="M1243.7,376.2V324.2H1264.1Q1266,329.2 1270,329.2H1439Q1442.5,329.2 1444.5,324.2H1464.5V376.2"/>
<line class="l" x1="1468.6" y1="324.5" x2="1554.2" y2="324.5"/>
<line class="l" x1="1548.5" y1="324.2" x2="1548.5" y2="515.7"/>
<path class="a" d="M1548.2,324.2L1551.4,342.2L1545,342.2Z"/>
<path class="a" d="M1548.2,515.7L1545,497.7L1551.4,497.7Z"/>
<text class="t" x="0" y="0" textLength="33.52" lengthAdjust="spacing" transform="translate(1542.1 436.6) rotate(-90)">D1</text>
<path class="l" d="M1243.5,365.5C1238.5,373.5 1232.5,379.5 1218.5,386.5V581.5H1491.5V386.5C1477.5,379.5 1470.5,373.5 1464.5,365.5"/>
<path class="l" d="M1243.5,376.5H1270.5V403.5H1262.5Q1254.5,403.5 1254.5,411.5V506.5Q1254.5,515.5 1264.5,515.5H1444.5Q1454.5,515.5 1454.5,506.5V411.5Q1454.5,403.5 1446.5,403.5H1438.5V376.5H1464.5"/>
<rect class="l" x="1308.5" y="376.5" width="92" height="27" rx="10"/>
<line class="l" x1="1218" y1="574.5" x2="1491" y2="574.5"/>
<line class="l" x1="1448.2" y1="515.5" x2="1554.2" y2="515.5"/>
<line class="l" x1="1254.5" y1="486" x2="1254.5" y2="556.6"/>
<line class="l" x1="1454.5" y1="486" x2="1454.5" y2="556.6"/>
<line class="l" x1="1254.8" y1="552.5" x2="1454.3" y2="552.5"/>
<path class="a" d="M1254.8,552.5L1276.3,549.3L1276.3,555.7Z"/>
<path class="a" d="M1454.3,552.5L1432.8,555.7L1432.8,549.3Z"/>
<text class="t" x="1338.6" y="548.2" textLength="30.38" lengthAdjust="spacing">E1</text>
<path class="l" d="M1243.5,581.5V597.5H1237.5V618.5H1243.5V682.5H1275.5V618.5H1281.5V597.5H1275.5V581.5"/>
<path class="l" d="M1432.5,581.5V597.5H1427.5V618.5H1432.5V682.5H1464.5V618.5H1470.5V597.5H1464.5V581.5"/>
<path class="l" d="M1338.5,581.5V597.5H1332.5V609.5H1376.5V597.5H1369.5V581.5"/>
<line class="c2" x1="1259.5" y1="574.4" x2="1259.5" y2="688.7"/>
<line class="c2" x1="1354.5" y1="574.4" x2="1354.5" y2="688.7"/>
<line class="c2" x1="1449.5" y1="574.4" x2="1449.5" y2="688.7"/>
<text class="t" x="1278.6" y="770.2" textLength="163.21" lengthAdjust="spacing">Bottom View</text>
</g>
<g transform="translate(0 1041)">
<line class="l" x1="254.4" y1="915.5" x2="321.3" y2="915.5"/>
<path class="l" d="M297.5,997.5L308.5,922.5Q309.5,915.5 318.5,915.5H549.5Q556.5,915.5 557.5,922.5L569.5,997.5Z"/>
<line class="l" x1="305.9" y1="940.5" x2="561.1" y2="940.5"/>
<line class="l" x1="260.5" y1="915.1" x2="260.5" y2="997.5"/>
<path class="a" d="M260,915.1L263.2,932.6L256.8,932.6Z"/>
<path class="a" d="M260,997.5L256.8,980L263.2,980Z"/>
<line class="l" x1="254.4" y1="997.5" x2="293.4" y2="997.5"/>
<text class="t" x="0" y="0" transform="translate(253.5 965.8) rotate(-90)">A</text>
<path class="l" d="M316.5,940.5V959.5H323.5V999.5H354.5V959.5H361.5V940.5"/>
<line class="l" x1="323.2" y1="981.5" x2="354.2" y2="981.5"/>
<path class="l" d="M411.5,940.5V960.5H455.5V940.5"/>
<path class="l" d="M505.5,940.5V959.5H512.5V999.5H543.5V959.5H550.5V940.5"/>
<line class="l" x1="512.4" y1="981.5" x2="543.5" y2="981.5"/>
<text class="t" x="385.4" y="1064.8" textLength="137.61" lengthAdjust="spacing">Front View</text>
</g>
<g transform="translate(-45 1002)">
<line class="c3" x1="1093.5" y1="834.5" x2="1093.5" y2="1063.1"/>
<line class="l" x1="1104.8" y1="834.5" x2="1093.4" y2="923.2"/>
<line class="l" x1="1093.4" y1="923.2" x2="1112.7" y2="1061.7"/>
<path class="l" d="M1100.8,868.9H1256.2C1245,880 1230,895 1227.6,907.2C1226,918 1230,926 1235.6,931C1245,943 1255,950 1262,957.4C1270,965 1277.8,972 1277.8,981.2C1278,992 1276,998 1272.6,1004.9C1266,1015 1258,1024 1252.7,1031.4H1108.7"/>
<path class="l" d="M1093.4,923.6H1032.1C1022,923.6 1012,925 1007,927C990,932 975,938 966,946.8C955,957 950,972 945,978.5C940,986 934,992 925,994.4C910,998 880,999.3 859.1,999.7C860,1010 860.5,1025 860.6,1035.3C880,1035 900,1034.5 920,1032C940,1029 960,1020 976.6,1002.3C983,993 988,980 995.1,973.2C1002,966 1010,961 1017.6,960.6C1022,959.6 1027,959.5 1032.1,959.5H1098.2"/>
<line class="l" x1="1007" y1="927" x2="1017.6" y2="960.6"/>
<line class="l" x1="1055.5" y1="923.6" x2="1055.5" y2="959.5"/>
<line class="d2" x1="859.1" y1="999.5" x2="1003.1" y2="999.5"/>
<line class="l" x1="779.8" y1="1034.5" x2="1182.7" y2="1034.5"/>
<line class="l" x1="780.1" y1="1038.4" x2="857" y2="1034.8"/>
<line class="l" x1="857.8" y1="1106.5" x2="981.9" y2="1106.5"/>
<path class="a" d="M859.1,1106.7L880.6,1103.5L880.6,1109.9Z"/>
<path class="a" d="M981.9,1106.7L960.4,1109.9L960.4,1103.5Z"/>
<line class="l" x1="859.5" y1="1035" x2="859.5" y2="1110.6"/>
<line class="l" x1="981.5" y1="1002.3" x2="981.5" y2="1110.6"/>
<text class="t" x="899" y="1102.2" textLength="32.59" lengthAdjust="spacing">L2</text>
<text class="t" x="1019.2" y="1111.1" textLength="100.63" lengthAdjust="spacing">Detail A</text>
<line class="l" x1="1178.5" y1="957.4" x2="1178.5" y2="1069.7"/>
<path class="a" d="M1178,1031.4L1174.8,1013.9L1181.2,1013.9Z"/>
<path class="a" d="M1178,1034.5L1181.2,1052L1174.8,1052Z"/>
<text class="t" x="0" y="0" textLength="31.31" lengthAdjust="spacing" transform="translate(1172.2 992.2) rotate(-90)">A1</text>
<path class="l" d="M1052.5,846.9A129.73,129.73 0 0 1 1182.9,871.6"/>
<path class="a" d="M1093.2,839.1L1072.13,844.42L1071.49,838.06Z"/>
<path class="a" d="M1104.8,839.8L1126.51,840.88L1125.25,847.15Z"/>
<text class="t it" x="0" y="0" text-anchor="middle" dominant-baseline="central" transform="translate(1173 850.8) rotate(28)">V1</text>
<path class="l" d="M1008.2,1044.6A213.88,213.88 0 0 0 1151.9,1049.3"/>
<path class="a" d="M1093.2,1059.4L1072,1055.1L1072,1061.4Z"/>
<path class="a" d="M1112.7,1058.3L1133.1,1052L1133.1,1057.5Z"/>
<text class="t it" x="0" y="0" text-anchor="middle" dominant-baseline="central" transform="translate(1034.4 1037.1) rotate(15)">V1</text>
<path class="l" d="M822.6,965.5C810,983 796,1003 789,1016C785.5,1024 784.6,1030 785,1035.8C785.8,1050 790,1061 798.6,1071.7"/>
<path class="a" d="M785.2,1035.1L784.9,1017.4L791.7,1018.1Z"/>
<path class="a" d="M785.6,1038L785.9,1056.5L793.6,1055Z"/>
<text class="t it" x="0" y="0" text-anchor="middle" dominant-baseline="central" transform="translate(823.6 994.2) rotate(127)">V2</text>
</g>
<line class="tb" x1="1680" y1="1268" x2="2313" y2="1268"/>
<line class="tb" x1="1838" y1="1311" x2="2313" y2="1311"/>
<line class="tb" x1="1680" y1="1356" x2="2313" y2="1356"/>
<line class="tb" x1="1680" y1="1400" x2="2313" y2="1400"/>
<line class="tb" x1="1680" y1="1444" x2="2313" y2="1444"/>
<line class="tb" x1="1680" y1="1488" x2="2313" y2="1488"/>
<line class="tb" x1="1680" y1="1532" x2="2313" y2="1532"/>
<line class="tb" x1="1680" y1="1576" x2="2313" y2="1576"/>
<line class="tb" x1="1680" y1="1621" x2="2313" y2="1621"/>
<line class="tb" x1="1680" y1="1664" x2="2313" y2="1664"/>
<line class="tb" x1="1680" y1="1708" x2="2313" y2="1708"/>
<line class="tb" x1="1680" y1="1753" x2="2313" y2="1753"/>
<line class="tb" x1="1680" y1="1797" x2="2313" y2="1797"/>
<line class="tb" x1="1680" y1="1840" x2="2313" y2="1840"/>
<line class="tb" x1="1680" y1="1885" x2="2313" y2="1885"/>
<line class="tb" x1="1680" y1="1928" x2="2313" y2="1928"/>
<line class="tb" x1="1680" y1="1973" x2="2313" y2="1973"/>
<line class="tb" x1="1680" y1="2017" x2="2313" y2="2017"/>
<line class="tb" x1="1680" y1="2064" x2="2313" y2="2064"/>
<line class="tb" x1="1681" y1="1267" x2="1681" y2="2065"/>
<line class="tb" x1="2312" y1="1267" x2="2312" y2="2065"/>
<line class="tb" x1="1839" y1="1268" x2="1839" y2="2064"/>
<text class="t th" x="1761.1" y="1321.65" text-anchor="middle">DIM.</text>
<text class="t th2" x="2074.9" y="1300.55" text-anchor="middle">MILLIMETER</text>
<text class="t th" x="1918.8" y="1343.3" text-anchor="middle">MIN.</text>
<text class="t th" x="2076.95" y="1343.3" text-anchor="middle">NOM.</text>
<text class="t th" x="2235.05" y="1343.3" text-anchor="middle">MAX.</text>
<line class="tb" x1="1996" y1="1311" x2="1996" y2="1356"/>
<line class="tb" x1="2155" y1="1311" x2="2155" y2="1356"/>
<text class="t tt" x="1759.1" y="1387.5" text-anchor="middle">A</text>
<line class="tb" x1="1996" y1="1356" x2="1996" y2="1400"/>
<line class="tb" x1="2155" y1="1356" x2="2155" y2="1400"/>
<text class="t tt" x="1918.3" y="1387.5" text-anchor="middle">2.10</text>
<text class="t tt" x="2076.45" y="1387.5" text-anchor="middle">2.30</text>
<text class="t tt" x="2234.55" y="1387.5" text-anchor="middle">2.40</text>
<text class="t tt" x="1759.1" y="1431.75" text-anchor="middle">A1</text>
<line class="tb" x1="1996" y1="1400" x2="1996" y2="1444"/>
<line class="tb" x1="2155" y1="1400" x2="2155" y2="1444"/>
<text class="t tt" x="1918.3" y="1431.75" text-anchor="middle">0</text>
<text class="t tt" x="2076.45" y="1431.75" text-anchor="middle">--</text>
<text class="t tt" x="2234.55" y="1431.75" text-anchor="middle">0.13</text>
<text class="t tt" x="1759.1" y="1475.85" text-anchor="middle">b</text>
<line class="tb" x1="1996" y1="1444" x2="1996" y2="1488"/>
<line class="tb" x1="2155" y1="1444" x2="2155" y2="1488"/>
<text class="t tt" x="1918.3" y="1475.85" text-anchor="middle">0.66</text>
<text class="t tt" x="2076.45" y="1475.85" text-anchor="middle">0.76</text>
<text class="t tt" x="2234.55" y="1475.85" text-anchor="middle">0.86</text>
<text class="t tt" x="1759.1" y="1519.95" text-anchor="middle">b3</text>
<line class="tb" x1="1996" y1="1488" x2="1996" y2="1532"/>
<line class="tb" x1="2155" y1="1488" x2="2155" y2="1532"/>
<text class="t tt" x="1918.3" y="1519.95" text-anchor="middle">5.21</text>
<text class="t tt" x="2076.45" y="1519.95" text-anchor="middle">5.38</text>
<text class="t tt" x="2234.55" y="1519.95" text-anchor="middle">5.55</text>
<text class="t tt" x="1759.1" y="1564" text-anchor="middle">c</text>
<line class="tb" x1="1996" y1="1532" x2="1996" y2="1576"/>
<line class="tb" x1="2155" y1="1532" x2="2155" y2="1576"/>
<text class="t tt" x="1918.3" y="1564" text-anchor="middle">0.40</text>
<text class="t tt" x="2076.45" y="1564" text-anchor="middle">0.50</text>
<text class="t tt" x="2234.55" y="1564" text-anchor="middle">0.60</text>
<text class="t tt" x="1759.1" y="1608.2" text-anchor="middle">c1</text>
<line class="tb" x1="1996" y1="1576" x2="1996" y2="1621"/>
<line class="tb" x1="2155" y1="1576" x2="2155" y2="1621"/>
<text class="t tt" x="1918.3" y="1608.2" text-anchor="middle">0.44</text>
<text class="t tt" x="2076.45" y="1608.2" text-anchor="middle">0.50</text>
<text class="t tt" x="2234.55" y="1608.2" text-anchor="middle">0.58</text>
<text class="t tt" x="1759.1" y="1652.1" text-anchor="middle">D</text>
<line class="tb" x1="1996" y1="1621" x2="1996" y2="1664"/>
<line class="tb" x1="2155" y1="1621" x2="2155" y2="1664"/>
<text class="t tt" x="1918.3" y="1652.1" text-anchor="middle">5.90</text>
<text class="t tt" x="2076.45" y="1652.1" text-anchor="middle">6.10</text>
<text class="t tt" x="2234.55" y="1652.1" text-anchor="middle">6.30</text>
<text class="t tt" x="1759.1" y="1696.05" text-anchor="middle">D1</text>
<text class="t tt" x="2076.4" y="1696.05" text-anchor="middle">5.30REF</text>
<text class="t tt" x="1759.1" y="1740.3" text-anchor="middle">E</text>
<line class="tb" x1="1996" y1="1708" x2="1996" y2="1753"/>
<line class="tb" x1="2155" y1="1708" x2="2155" y2="1753"/>
<text class="t tt" x="1918.3" y="1740.3" text-anchor="middle">6.40</text>
<text class="t tt" x="2076.45" y="1740.3" text-anchor="middle">6.60</text>
<text class="t tt" x="2234.55" y="1740.3" text-anchor="middle">6.80</text>
<text class="t tt" x="1759.1" y="1784.55" text-anchor="middle">E1</text>
<line class="tb" x1="1996" y1="1753" x2="1996" y2="1797"/>
<line class="tb" x1="2155" y1="1753" x2="2155" y2="1797"/>
<text class="t tt" x="1918.3" y="1784.55" text-anchor="middle">4.63</text>
<text class="t tt" x="2076.45" y="1784.55" text-anchor="middle">-</text>
<text class="t tt" x="2234.55" y="1784.55" text-anchor="middle">-</text>
<text class="t tt" x="1759.1" y="1828.35" text-anchor="middle">e</text>
<text class="t tt" x="2076.4" y="1828.35" text-anchor="middle">2.29 BSC</text>
<text class="t tt" x="1759.1" y="1872.15" text-anchor="middle">H</text>
<line class="tb" x1="1996" y1="1840" x2="1996" y2="1885"/>
<line class="tb" x1="2155" y1="1840" x2="2155" y2="1885"/>
<text class="t tt" x="1918.3" y="1872.15" text-anchor="middle">9.50</text>
<text class="t tt" x="2076.45" y="1872.15" text-anchor="middle">10.00</text>
<text class="t tt" x="2234.55" y="1872.15" text-anchor="middle">10.70</text>
<text class="t tt" x="1759.1" y="1916.25" text-anchor="middle">L</text>
<line class="tb" x1="1996" y1="1885" x2="1996" y2="1928"/>
<line class="tb" x1="2155" y1="1885" x2="2155" y2="1928"/>
<text class="t tt" x="1918.3" y="1916.25" text-anchor="middle">1.09</text>
<text class="t tt" x="2076.45" y="1916.25" text-anchor="middle">--</text>
<text class="t tt" x="2234.55" y="1916.25" text-anchor="middle">1.21</text>
<text class="t tt" x="1759.1" y="1960.3" text-anchor="middle">L2</text>
<line class="tb" x1="1996" y1="1928" x2="1996" y2="1973"/>
<line class="tb" x1="2155" y1="1928" x2="2155" y2="1973"/>
<text class="t tt" x="1918.3" y="1960.3" text-anchor="middle">1.35</text>
<text class="t tt" x="2076.45" y="1960.3" text-anchor="middle">--</text>
<text class="t tt" x="2234.55" y="1960.3" text-anchor="middle">1.65</text>
<text class="t tt" x="1759.1" y="2004.55" text-anchor="middle">V1</text>
<text class="t tt" x="2076.4" y="2004.55" text-anchor="middle">7° REF</text>
<text class="t tt" x="1759.1" y="2050.1" text-anchor="middle">V2</text>
<line class="tb" x1="1996" y1="2017" x2="1996" y2="2064"/>
<line class="tb" x1="2155" y1="2017" x2="2155" y2="2064"/>
<text class="t tt" x="1918.3" y="2050.1" text-anchor="middle">0°</text>
<text class="t tt" x="2076.45" y="2050.1" text-anchor="middle">--</text>
<text class="t tt" x="2234.55" y="2050.1" text-anchor="middle">6°</text>
</svg>
</body></html>
